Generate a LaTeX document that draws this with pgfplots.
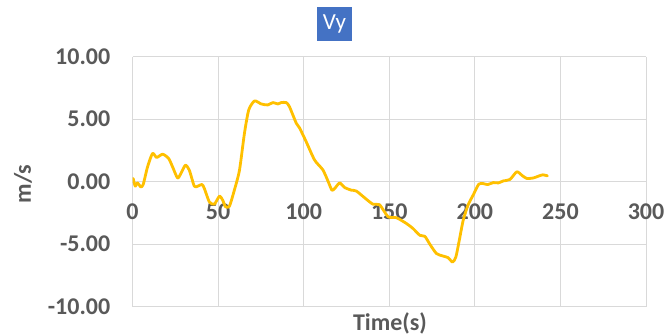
\documentclass[border=0pt]{standalone}
\usepackage{fontspec}
\setmainfont{Carlito}
\usepackage{pgfplots}
\usepackage{pgfplotstable}
\pgfplotsset{compat=1.18}

\definecolor{tickgray}{HTML}{595959}
\definecolor{gridgray}{HTML}{D9D9D9}
\definecolor{vyline}{HTML}{FFC000}
\definecolor{titleblue}{HTML}{4472C4}

% vertical velocity over time
\pgfplotstableread{
t v
0.4 0.26
1.6 -0.36
2.9 -0.10
4.9 -0.42
6.3 -0.20
8.8 1.19
11.7 2.26
14.1 1.94
17.6 2.20
21.1 1.86
23.4 1.19
26.3 0.30
28.3 0.66
30.9 1.32
33.2 0.92
36.1 -0.36
38.1 -0.36
40.6 -0.22
42.0 -0.55
44.9 -1.62
47.8 -1.80
50.8 -1.16
52.7 -1.48
54.3 -2.00
56.6 -1.97
59.5 -0.68
62.5 0.92
65.4 3.87
67.9 5.74
71.3 6.46
75.2 6.22
79.0 6.14
82.0 6.33
84.9 6.22
86.9 6.33
89.8 6.33
91.7 6.00
95.7 4.67
97.6 4.30
101.5 3.19
106.4 1.73
111.2 0.95
114.2 0.05
116.5 -0.68
118.1 -0.55
121.0 -0.10
124.0 -0.47
127.9 -0.68
130.8 -0.75
136.6 -1.40
140.5 -1.80
144.4 -1.85
149.3 -2.80
154.2 -2.88
160.1 -3.35
163.9 -3.75
167.9 -4.29
170.8 -4.37
173.7 -5.00
177.6 -5.75
181.5 -5.95
184.4 -6.08
187.0 -6.43
188.9 -6.03
190.9 -4.70
193.2 -3.09
196.1 -1.85
199.1 -1.05
202.3 -0.20
204.9 -0.15
207.5 -0.23
210.8 -0.07
213.7 -0.10
216.6 0.06
220.5 0.18
224.5 0.79
227.4 0.52
230.3 0.26
234.2 0.30
237.1 0.44
239.7 0.55
242.4 0.47
}\vydata

\begin{document}
\begin{tikzpicture}[x=1pt,y=1pt]
\path[use as bounding box] (0,0) rectangle (668,336);
\begin{axis}[
  at={(132.5pt,29.3pt)}, anchor=south west,
  scale only axis, width=513.5pt, height=250pt,
  xmin=0, xmax=300, ymin=-10, ymax=10,
  xtick={0,50,...,300}, ytick={-10,-5,0,5,10},
  grid=major,
  grid style={gridgray, line width=0.9pt},
  axis line style={draw=none},
  major tick length=0pt,
  /pgf/number format/assume math mode=true,
  tick label style={font=\fontsize{24}{24}\selectfont\bfseries, text=tickgray, inner sep=0pt},
  yticklabel style={anchor=east, xshift=-22pt,
    /pgf/number format/.cd, fixed, fixed zerofill, precision=2},
  xticklabel style={anchor=north, yshift=103pt},
]
\addplot[vyline, line width=2.8pt, smooth, tension=0.4, line join=round, line cap=round] table[x=t, y=v] {\vydata};
\end{axis}
\node[fill=titleblue, text=white, minimum width=34.3pt, minimum height=33.4pt, inner sep=0pt,
  font=\fontsize{23}{23}\selectfont] at (334.5,312) {Vy};
\node[font=\fontsize{24}{24}\selectfont\bfseries, text=tickgray] at (390,13) {Time(s)};
\node[font=\fontsize{24}{24}\selectfont\bfseries, text=tickgray, rotate=90] at (23,152) {m/s};
\end{tikzpicture}
\end{document}
